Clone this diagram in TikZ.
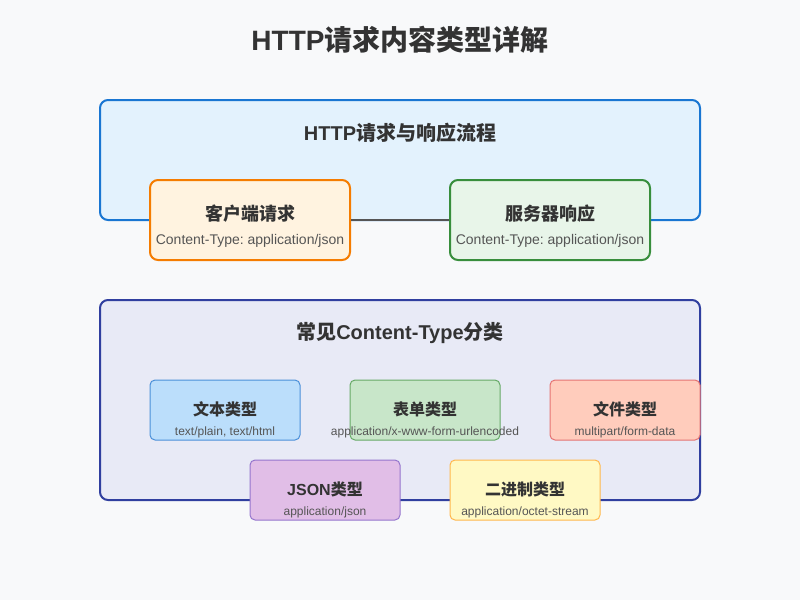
\documentclass[tikz,border=0pt]{standalone}
\usepackage{fontspec}
\setmainfont{Liberation Sans}
\newfontfamily\cjk{Noto Sans CJK SC}
\usetikzlibrary{positioning}
\frenchspacing
\definecolor{PageGray}{HTML}{F8F9FA}
\definecolor{InkDark}{HTML}{333333}
\definecolor{InkSoft}{HTML}{555555}
\definecolor{FlowBlue}{HTML}{1976D2}
\definecolor{FlowTint}{HTML}{E3F2FD}
\definecolor{TypeIndigo}{HTML}{303F9F}
\definecolor{TypeTint}{HTML}{E8EAF6}
\definecolor{ClientLine}{HTML}{F57C00}
\definecolor{ClientTint}{HTML}{FFF3E0}
\definecolor{ServerLine}{HTML}{388E3C}
\definecolor{ServerTint}{HTML}{E8F5E9}
\definecolor{TextLine}{HTML}{4A90D9}
\definecolor{TextTint}{HTML}{BBDEFB}
\definecolor{FormLine}{HTML}{66AA66}
\definecolor{FormTint}{HTML}{C8E6C9}
\definecolor{FileLine}{HTML}{E57373}
\definecolor{FileTint}{HTML}{FFCCBC}
\definecolor{JsonLine}{HTML}{9575CD}
\definecolor{JsonTint}{HTML}{E1BEE7}
\definecolor{BinLine}{HTML}{FFB74D}
\definecolor{BinTint}{HTML}{FFF9C4}

\begin{document}
\begin{tikzpicture}[x=1pt, y=-1pt,
  every node/.style={inner sep=0pt, text=InkDark},
  panel/.style={draw, line width=2pt, rounded corners=8pt,
    minimum width=600pt},
  endpoint/.style={draw, line width=2pt, rounded corners=8pt,
    minimum width=200pt, minimum height=80pt},
  typebox/.style={draw, line width=1pt, rounded corners=5pt,
    minimum width=150pt, minimum height=60pt},
  headline/.style={font=\fontsize{28}{32}\selectfont\bfseries},
  paneltitle/.style={font=\fontsize{20}{24}\selectfont\bfseries},
  boxtitle/.style={font=\fontsize{18}{21}\selectfont\bfseries},
  boxnote/.style={font=\fontsize{14}{17}\selectfont, text=InkSoft},
  typetitle/.style={font=\fontsize{16}{19}\selectfont\bfseries},
  typenote/.style={font=\fontsize{12}{14}\selectfont, text=InkSoft}]
  \fill[PageGray] (0,0) rectangle (800,600);
  \useasboundingbox (0,0) rectangle (800,600);

  \node[headline] (title) at (400,40) {HTTP{\cjk 请求内容类型详解}};

  % request / response panel
  \node[panel, draw=FlowBlue, fill=FlowTint, minimum height=120pt]
    (flow) at (400,160) {};
  \node[paneltitle] (flowtitle) at (400,133) {HTTP{\cjk 请求与响应流程}};
  \node[endpoint, draw=ClientLine, fill=ClientTint] (client) at (250,220) {};
  \node[endpoint, draw=ServerLine, fill=ServerTint] (server) at (550,220) {};
  \draw[InkSoft, line width=2pt] (client) -- (server);
  \node[boxtitle] at ([yshift=6pt]client.center) {\cjk 客户端请求};
  \node[boxnote] at ([yshift=-21pt]client.center) {Content-Type: application/json};
  \node[boxtitle] at ([yshift=6pt]server.center) {\cjk 服务器响应};
  \node[boxnote] at ([yshift=-21pt]server.center) {Content-Type: application/json};

  % content types panel
  \node[panel, draw=TypeIndigo, fill=TypeTint, minimum height=200pt]
    (types) at (400,400) {};
  \node[paneltitle] (typestitle) at (400,333) {{\cjk 常见}Content-Type{\cjk 分类}};
  \node[typebox, draw=TextLine, fill=TextTint] (text) at (225,410) {};
  \node[typebox, draw=FormLine, fill=FormTint] (form) at (425,410) {};
  \node[typebox, draw=FileLine, fill=FileTint] (file) at (625,410) {};
  \node[typebox, draw=JsonLine, fill=JsonTint] (json) at (325,490) {};
  \node[typebox, draw=BinLine, fill=BinTint] (binary) at (525,490) {};

  \node[typetitle] at ([yshift=1pt]text.center) {\cjk 文本类型};
  \node[typenote] at ([yshift=-22pt]text.center) {text/plain, text/html};
  \node[typetitle] at ([yshift=1pt]form.center) {\cjk 表单类型};
  \node[typenote] at ([yshift=-22pt]form.center) {application/x-www-form-urlencoded};
  \node[typetitle] at ([yshift=1pt]file.center) {\cjk 文件类型};
  \node[typenote] at ([yshift=-22pt]file.center) {multipart/form-data};
  \node[typetitle] at ([yshift=1pt]json.center) {JSON{\cjk 类型}};
  \node[typenote] at ([yshift=-22pt]json.center) {application/json};
  \node[typetitle] at ([yshift=1pt]binary.center) {\cjk 二进制类型};
  \node[typenote] at ([yshift=-22pt]binary.center) {application/octet-stream};
\end{tikzpicture}
\end{document}
